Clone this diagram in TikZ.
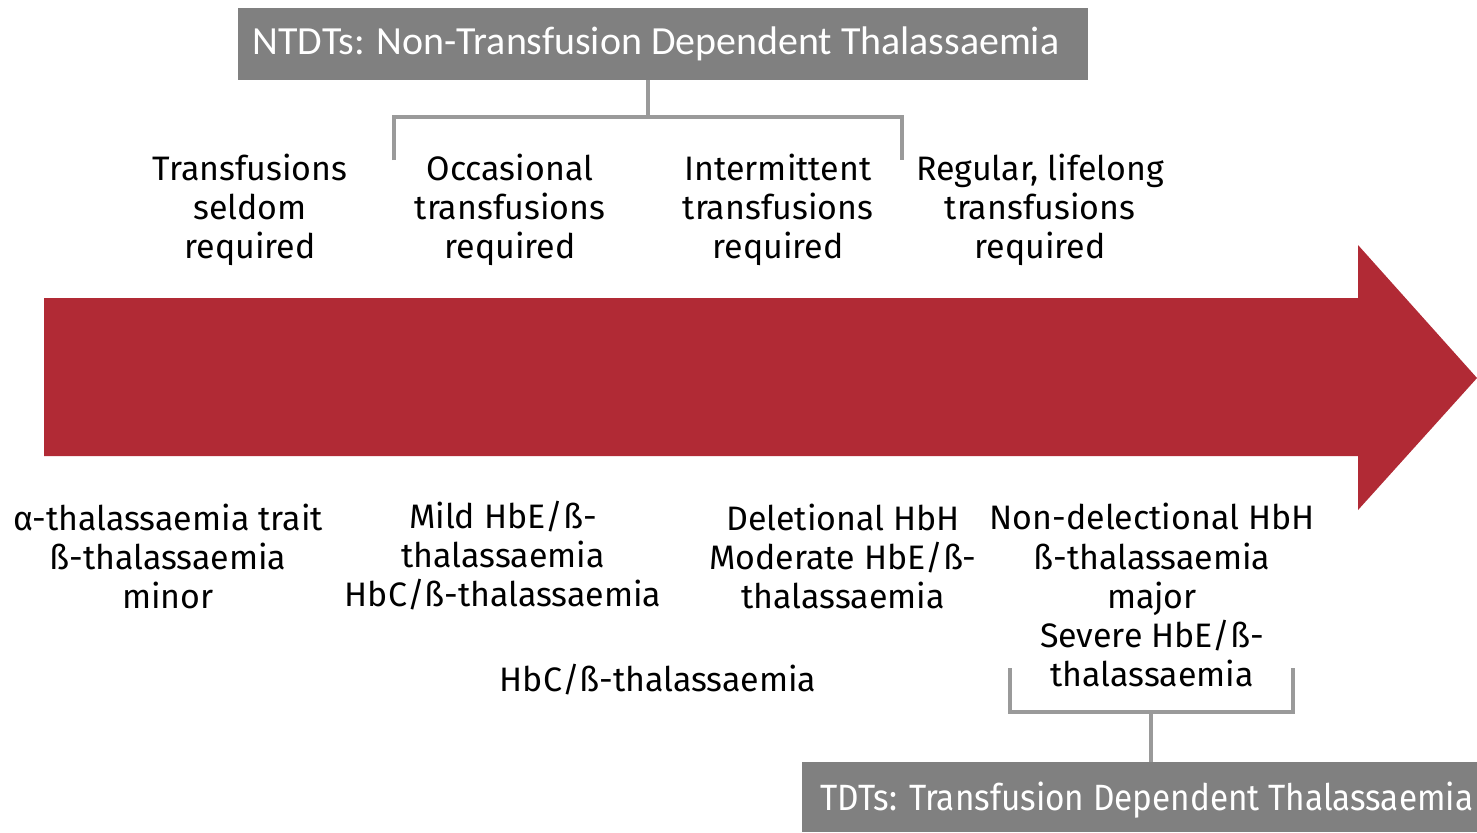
\documentclass[tikz,border=0pt]{standalone}
\usepackage{fontspec}
\setmainfont{Fira Sans}
\newfontfamily\boxfont{Carlito}
\newfontfamily\narrowfont[FakeStretch=0.91]{Fira Sans}
\usetikzlibrary{positioning}

\definecolor{barred}{HTML}{B12A35}
\definecolor{boxgray}{HTML}{808080}
\definecolor{linegray}{HTML}{9A9A9A}

\tikzset{
  boxtext/.style={text=white, inner sep=0pt, anchor=west},
  lbl/.style={align=center, inner sep=0pt, font=\fontsize{9.65}{11.1}\selectfont},
  brace/.style={draw=linegray, line width=1.2pt}
}

\begin{document}
\begin{tikzpicture}[x=0.01cm, y=-0.01cm]

  \useasboundingbox (0,0) rectangle (1477,832);

  % the bar
  \fill[barred] (44,298) -- (1358,298) -- (1358,245) -- (1477,378)
     -- (1358,510) -- (1358,456) -- (44,456) -- cycle;

  \fill[boxgray] (238,8) rectangle (1088,80);
  \node[boxtext, font=\boxfont\fontsize{11.35}{13}\selectfont] (ntdt) at (252,44)
     {NTDTs: Non-Transfusion Dependent Thalassaemia};
  \coordinate (ntdtfoot) at (648,80);

  \fill[boxgray] (802,762) rectangle (1477,832);
  \node[boxtext, font=\narrowfont\fontsize{10.4}{12}\selectfont] (tdt) at (820,800)
     {TDTs: Transfusion Dependent Thalassaemia};
  \coordinate (tdthead) at (1151,762);

  \node[lbl] (seldom) at (250,210) {Transfusions\\seldom\\required};
  \node[lbl] (occ) at (510,210) {Occasional\\transfusions\\required};
  \node[lbl] (inter) at (778,210) {Intermittent\\transfusions\\required};
  \node[lbl] (reg) at (1040,210) {Regular, lifelong\\transfusions\\required};

  \node[lbl] (minor) at (168,556) {α-thalassaemia trait\\ß-thalassaemia\\minor};
  \node[lbl] (mild) at (503,556) {Mild HbE/ß-\\thalassaemia\\HbC/ß-thalassaemia};
  \node[lbl] (moder) at (843,556) {Deletional HbH\\Moderate HbE/ß-\\thalassaemia};
  \node[lbl] (major) at (1152,595) {Non-delectional HbH\\ß-thalassaemia\\major\\Severe HbE/ß-\\thalassaemia};
  \node[lbl] (hbc) at (658,680) {HbC/ß-thalassaemia};

  \draw[brace] (394,160) -- (394,117) -- (902,117) -- (902,160);
  \draw[brace] (ntdtfoot) -- (648,117);

  \draw[brace] (1010,668) -- (1010,712) -- (1293,712) -- (1293,668);
  \draw[brace] (1151,712) -- (tdthead);

\end{tikzpicture}
\end{document}
